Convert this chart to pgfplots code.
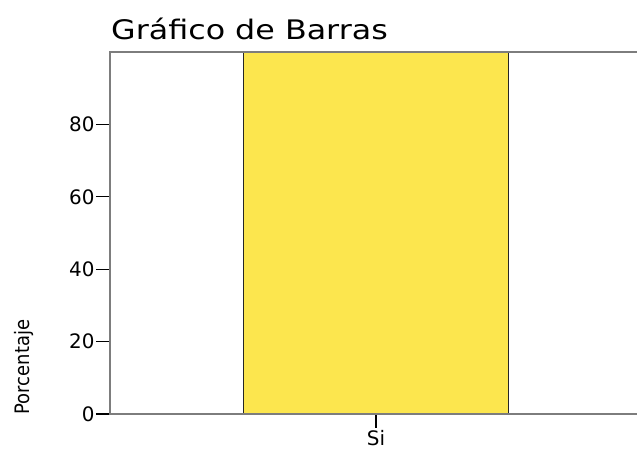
\documentclass[border=0pt]{standalone}
\usepackage{pgfplots}
\pgfplotsset{compat=1.18}
\usepackage{fontspec}
\setmainfont{DejaVu Sans}
\newfontfamily\condfont{DejaVu Sans Condensed}
\newfontfamily\widefont[FakeStretch=1.18]{DejaVu Sans}
\definecolor{baryellow}{RGB}{252,230,78}
\definecolor{axgray}{RGB}{125,125,125}
\begin{document}
\begin{tikzpicture}[x=1bp,y=1bp]
\path[use as bounding box] (0,0) rectangle (637,451);
\begin{axis}[
  at={(110bp,37bp)}, anchor=south west,
  scale only axis, width=527bp, height=362bp,
  xmin=-1.004, xmax=0.985, ymin=0, ymax=100,
  axis line style={draw=none},
  clip=false,
  xtick={0}, xticklabels={Si},
  ytick={0,20,40,60,80},
  tick align=outside, major tick length=14bp,
  xtick pos=bottom, ytick pos=left,
  tick style={black, line width=1.2bp},
  /pgf/number format/assume math mode=true,
  tick label style={font=\fontsize{20}{20}\selectfont},
  yticklabel style={xshift=2bp},
  xticklabel style={yshift=1bp},
]
\addplot[ybar, bar width=1, fill=baryellow, draw=black!85, line width=1.2bp] coordinates {(0,100)};
\draw[axgray, line width=2.2bp] (rel axis cs:1,1) -- (rel axis cs:0,1) -- (rel axis cs:0,0) -- (rel axis cs:1,0);
\end{axis}
\node[anchor=base west, inner sep=0pt, font=\widefont\fontsize{27}{27}\selectfont] at (111bp,411bp) {Gráfico de Barras};
\node[rotate=90, anchor=base, inner sep=0pt, font=\condfont\fontsize{20}{20}\selectfont] at (29bp,84bp) {Porcentaje};
\end{tikzpicture}
\end{document}
